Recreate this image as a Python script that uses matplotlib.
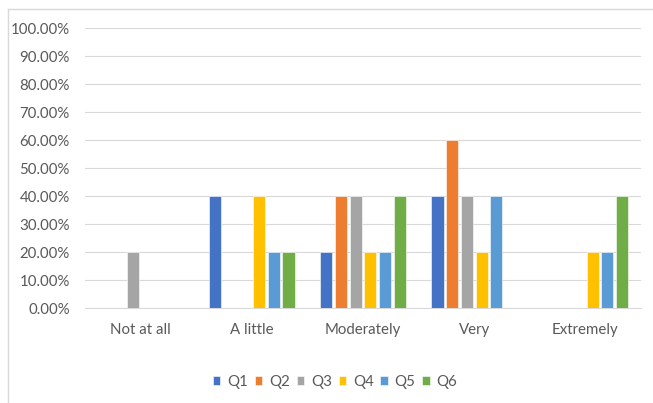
import matplotlib.pyplot as plt
import numpy as np
from matplotlib.lines import Line2D

categories = ["Not at all", "A little", "Moderately", "Very", "Extremely"]
series = ["Q1", "Q2", "Q3", "Q4", "Q5", "Q6"]
q1 = [0, 40, 20, 40, 0]
q2 = [0, 0, 40, 60, 0]
q3 = [20, 0, 40, 40, 0]
q4 = [0, 40, 20, 20, 20]
q5 = [0, 20, 20, 40, 20]
q6 = [0, 20, 40, 0, 40]
values = [q1, q2, q3, q4, q5, q6]
colors = ["#4472C4", "#ED7D31", "#A5A5A5", "#FFC000", "#5B9BD5", "#70AD47"]

plt.rcParams["font.family"] = ["Lato", "DejaVu Sans"]
text_color = "#595959"

fig = plt.figure(figsize=(6.53, 4.03), dpi=100)
# chart frame: only the top and left edges fall inside the picture
fig.lines.append(Line2D([7.5 / 653, 7.5 / 653], [0, 394 / 403], transform=fig.transFigure,
                        color="#D9D9D9", linewidth=1.0))
fig.lines.append(Line2D([7.5 / 653, 1], [394 / 403, 394 / 403], transform=fig.transFigure,
                        color="#D9D9D9", linewidth=1.0))
ax = fig.add_axes([85 / 653, 95 / 403, 556 / 653, 280 / 403])

x = np.arange(len(categories))
pitch = 0.132
width = 0.108
for i, (name, vals) in enumerate(zip(series, values)):
    ax.bar(x + (i - 2.5) * pitch, vals, width, color=colors[i], label=name,
           edgecolor="white", linewidth=0.4, zorder=3)

ax.set_xlim(-0.5, len(categories) - 0.5)
ax.set_ylim(0, 100)
ax.set_yticks(np.arange(0, 101, 10))
ax.set_yticklabels([f"{v:.2f}%" for v in range(0, 101, 10)])
ax.set_xticks(x)
ax.set_xticklabels(categories)
ax.grid(axis="y", color="#D9D9D9", linewidth=0.8, zorder=0)
for s in ["top", "right", "left"]:
    ax.spines[s].set_visible(False)
ax.spines["bottom"].set_color("#D9D9D9")
ax.tick_params(axis="both", length=0, colors=text_color, labelsize=10.8)
ax.tick_params(axis="x", pad=11)
ax.tick_params(axis="y", pad=11)

fig.legend(loc="center", bbox_to_anchor=(335 / 653, 21 / 403), ncol=6, frameon=False,
           handlelength=0.5, handleheight=0.5, handletextpad=0.45,
           columnspacing=0.45, labelcolor=text_color, fontsize=10.8)

plt.savefig("out.png", dpi=100)
